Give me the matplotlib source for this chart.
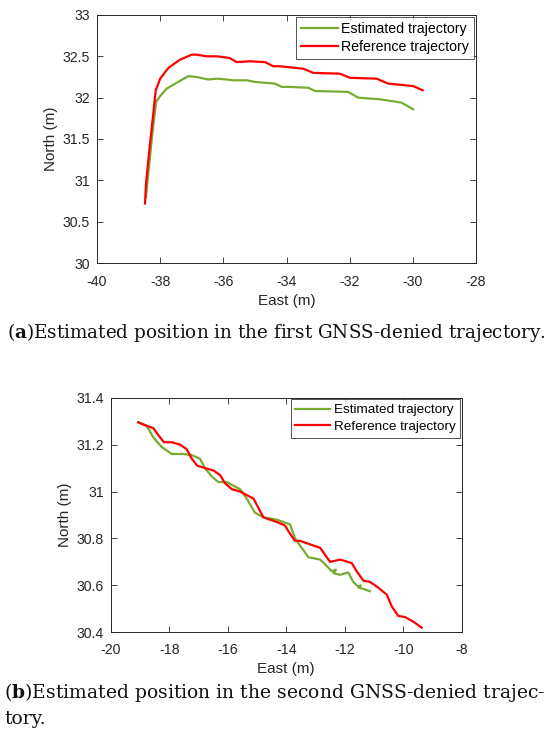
import matplotlib
matplotlib.use("Agg")
import matplotlib.pyplot as plt

# ---- trajectory 1 (first GNSS-denied segment) ----
east_est_1 = [-38.45, -38.27, -38.13, -38.00, -37.79, -37.48, -37.11, -36.85, -36.48, -36.21,
              -35.90, -35.69, -35.26, -35.00, -34.37, -34.15, -33.89, -33.31, -33.10, -32.05,
              -31.73, -31.04, -30.36, -29.99]
north_est_1 = [30.80, 31.49, 31.95, 32.02, 32.11, 32.18, 32.26, 32.25, 32.22, 32.23,
               32.22, 32.21, 32.21, 32.19, 32.17, 32.13, 32.13, 32.12, 32.08, 32.07,
               32.00, 31.98, 31.94, 31.86]
east_ref_1 = [-38.48, -38.45, -38.32, -38.14, -38.00, -37.74, -37.37, -37.00, -36.85, -36.53,
              -36.20, -35.80, -35.58, -35.16, -34.68, -34.42, -34.21, -33.47, -33.15, -32.31,
              -31.99, -31.15, -30.78, -29.99, -29.69]
north_ref_1 = [30.72, 30.96, 31.45, 32.09, 32.23, 32.36, 32.46, 32.52, 32.52, 32.50,
               32.50, 32.48, 32.43, 32.44, 32.43, 32.38, 32.38, 32.35, 32.30, 32.29,
               32.24, 32.23, 32.17, 32.14, 32.09]

# ---- trajectory 2 (second GNSS-denied segment) ----
east_est_2 = [-19.06, -18.77, -18.54, -18.26, -17.91, -17.52, -17.23, -16.95, -16.78, -16.55,
              -16.32, -16.03, -15.58, -15.35, -15.07, -14.78, -14.32, -13.87, -13.70, -13.47,
              -13.24, -12.84, -12.67, -12.44, -12.30, -12.38, -12.16, -11.88, -11.71, -11.54,
              -11.45, -11.52, -11.36, -11.14]
north_est_2 = [31.295, 31.28, 31.23, 31.19, 31.16, 31.16, 31.155, 31.14, 31.10, 31.065,
               31.04, 31.04, 31.01, 30.97, 30.91, 30.89, 30.88, 30.86, 30.80, 30.76,
               30.72, 30.71, 30.69, 30.66, 30.667, 30.652, 30.645, 30.655, 30.615, 30.595,
               30.60, 30.59, 30.585, 30.575]
east_ref_2 = [-19.06, -18.77, -18.54, -18.37, -18.18, -17.91, -17.63, -17.40, -17.23, -17.04,
              -16.78, -16.49, -16.26, -16.09, -15.86, -15.58, -15.35, -15.12, -14.95, -14.78,
              -14.55, -14.32, -14.04, -13.87, -13.70, -13.53, -13.19, -12.84, -12.67, -12.50,
              -12.16, -11.76, -11.59, -11.36, -11.14, -10.85, -10.56, -10.39, -10.17, -9.94,
              -9.65, -9.37]
north_ref_2 = [31.295, 31.28, 31.27, 31.24, 31.21, 31.21, 31.20, 31.18, 31.14, 31.11,
               31.10, 31.09, 31.07, 31.035, 31.01, 31.00, 30.985, 30.97, 30.93, 30.89,
               30.88, 30.87, 30.855, 30.82, 30.79, 30.79, 30.775, 30.76, 30.73, 30.70,
               30.71, 30.695, 30.66, 30.62, 30.615, 30.59, 30.56, 30.51, 30.47, 30.465,
               30.445, 30.42]

xticks_1 = [-40, -38, -36, -34, -32, -30, -28]
yticks_1 = [30, 30.5, 31, 31.5, 32, 32.5, 33]
yticklabels_1 = ["30", "30.5", "31", "31.5", "32", "32.5", "33"]
xticks_2 = [-20, -18, -16, -14, -12, -10, -8]
yticks_2 = [30.4, 30.6, 30.8, 31, 31.2, 31.4]
yticklabels_2 = ["30.4", "30.6", "30.8", "31", "31.2", "31.4"]

GREEN = "#77AC30"
RED = "#FF0000"
AXC = "#262626"
SANS = ["Liberation Sans", "DejaVu Sans"]
SERIF = ["DejaVu Serif"]

plt.rcParams["font.family"] = SANS
plt.rcParams["axes.unicode_minus"] = False
plt.rcParams["mathtext.fontset"] = "dejavuserif"
fig = plt.figure(figsize=(5.5, 7.31), dpi=100)


def style_axes(ax, xt, yt, ytl, xlim, ylim, legsize, xpad):
    ax.set_xlim(*xlim)
    ax.set_ylim(*ylim)
    ax.set_xticks(xt)
    ax.set_xticklabels([str(v) for v in xt])
    ax.set_yticks(yt)
    ax.set_yticklabels(ytl)
    ax.tick_params(direction="in", top=True, right=True, length=4, width=0.6,
                   colors=AXC, labelsize=10.2, labelcolor=AXC)
    ax.tick_params(axis="x", pad=xpad)
    ax.tick_params(axis="y", pad=5)
    for s in ax.spines.values():
        s.set_color(AXC)
        s.set_linewidth(0.7)
    ax.set_xlabel("East (m)", fontsize=11, color=AXC, labelpad=4)
    ax.set_ylabel("North (m)", fontsize=11, color=AXC, labelpad=3)
    leg = ax.legend(loc="upper right", fontsize=legsize, frameon=True, fancybox=False,
                    edgecolor=AXC, handlelength=2.6, handletextpad=0.25,
                    borderpad=0.35, labelspacing=0.3, borderaxespad=0.12)
    leg.get_frame().set_linewidth(0.7)


ax1 = fig.add_axes([0.1764, 0.6402, 0.6891, 0.3393])
ax1.plot(east_est_1, north_est_1, color=GREEN, lw=1.6, label="Estimated trajectory")
ax1.plot(east_ref_1, north_ref_1, color=RED, lw=1.6, label="Reference trajectory")
style_axes(ax1, xticks_1, yticks_1, yticklabels_1, (-40, -28), (30, 33), 10.2, 8.5)

ax2 = fig.add_axes([0.2013, 0.135, 0.6382, 0.321])
ax2.plot(east_est_2, north_est_2, color=GREEN, lw=1.6, label="Estimated trajectory")
ax2.plot(east_ref_2, north_ref_2, color=RED, lw=1.6, label="Reference trajectory")
style_axes(ax2, xticks_2, yticks_2, yticklabels_2, (-20, -8), (30.4, 31.4), 9.7, 7.5)

# captions
cap_size = 13.2
fig.text(0.012, 1 - 333 / 731, r"($\mathbf{a}$)Estimated position in the first GNSS-denied trajectory.",
         fontsize=cap_size, family=SERIF, va="center", ha="left", color="#111111")
fig.text(0.008, 1 - 692 / 731, r"($\mathbf{b}$)Estimated position in the second GNSS-denied trajec-",
         fontsize=13.5, family=SERIF, va="center", ha="left", color="#111111")
fig.text(0.008, 1 - 719 / 731, "tory.",
         fontsize=13.5, family=SERIF, va="center", ha="left", color="#111111")

fig.savefig("out.png", dpi=100)
